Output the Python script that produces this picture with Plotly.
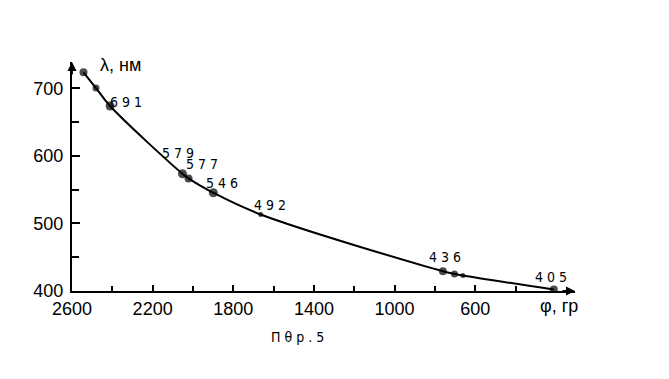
import plotly.graph_objects as go

# data
phi = [2543, 2481, 2411, 2052, 2022, 1899, 1664, 760, 703, 661, 210]
lam = [723.7, 700.4, 673.8, 573.5, 566.7, 545.4, 513.3, 429.3, 425.3, 422.9, 402.2]
labels = ["", "", "691", "579", "577", "546", "492", "436", "", "", "405"]
x_ticks = [2600, 2200, 1800, 1400, 1000, 600]
y_ticks = [400, 500, 600, 700]

# styles (not data)
msizes = [8, 7, 9, 9, 8, 9, 5, 8, 7, 5, 8]
lab_shift = {"691": (16, 4), "579": (-4, 21), "577": (13, 14), "546": (9, 10),
             "492": (9, 9), "436": (2, 14), "405": (-3, 13)}

X_RANGE = [2600, 105]
Y_RANGE = [400, 739]

fig = go.Figure()
fig.add_trace(go.Scatter(
    x=phi, y=lam, mode="lines+markers",
    line=dict(color="black", width=2, shape="spline", smoothing=1.0),
    marker=dict(color="black", size=msizes, line=dict(color="black", width=0)),
    showlegend=False, hoverinfo="skip"))

lab_font = dict(family="Liberation Sans Narrow, DejaVu Sans Condensed, sans-serif", size=14, color="black")
annotations = []
for xv, yv, t in zip(phi, lam, labels):
    if not t:
        continue
    dx, dy = lab_shift[t]
    annotations.append(dict(x=xv, y=yv, xref="x", yref="y", text=" ".join(t),
                            showarrow=False, xshift=dx, yshift=dy, font=lab_font,
                            xanchor="center", yanchor="middle"))

# axis arrowheads
annotations.append(dict(x=X_RANGE[1], y=Y_RANGE[0], xref="x", yref="y", ax=-14, ay=0,
                        showarrow=True, arrowhead=2, arrowsize=1, arrowwidth=1.8,
                        arrowcolor="black", text=""))
annotations.append(dict(x=X_RANGE[0], y=Y_RANGE[1], xref="x", yref="y", ax=0, ay=14,
                        showarrow=True, arrowhead=2, arrowsize=1, arrowwidth=1.8,
                        arrowcolor="black", text=""))

tfont = dict(family="Liberation Sans, Arial, sans-serif", size=18, color="black")
annotations.append(dict(x=0.052, y=0.987, xref="paper", yref="paper", text="λ, нм",
                        showarrow=False, xanchor="left", yanchor="middle", font=tfont))
annotations.append(dict(x=0.926, y=-0.066, xref="paper", yref="paper", text="φ, гр",
                        showarrow=False, xanchor="left", yanchor="middle", font=tfont))
annotations.append(dict(x=0.449, y=-0.201, xref="paper", yref="paper", text="П θ р . 5",
                        showarrow=False, xanchor="center", yanchor="middle",
                        font=dict(family="Liberation Sans Narrow, DejaVu Sans Condensed, sans-serif",
                                  size=14, color="black")))

fig.update_layout(
    width=669, height=379,
    margin=dict(l=72, r=94, t=62, b=88),
    paper_bgcolor="white", plot_bgcolor="white",
    annotations=annotations,
    xaxis=dict(range=X_RANGE, tickvals=x_ticks, ticks="inside", ticklen=6, tickwidth=2,
               tickcolor="black", showline=True, linecolor="black", linewidth=2,
               showgrid=False, zeroline=False,
               tickfont=dict(family="Liberation Sans, Arial, sans-serif", size=18, color="black"),
               minor=dict(tickvals=[2400, 2000, 1600, 1200, 800, 400], ticks="inside",
                          ticklen=5, tickwidth=2, tickcolor="black", showgrid=False)),
    yaxis=dict(range=Y_RANGE, tickvals=y_ticks, ticks="inside", ticklen=8, tickwidth=2,
               tickcolor="black", showline=True, linecolor="black", linewidth=2,
               showgrid=False, zeroline=False, ticklabelstandoff=3,
               tickfont=dict(family="Liberation Sans, Arial, sans-serif", size=18, color="black"),
               minor=dict(tickvals=[450, 550, 650], ticks="inside", ticklen=7, tickwidth=2,
                          tickcolor="black", showgrid=False)),
)

fig.write_html("out.html")
